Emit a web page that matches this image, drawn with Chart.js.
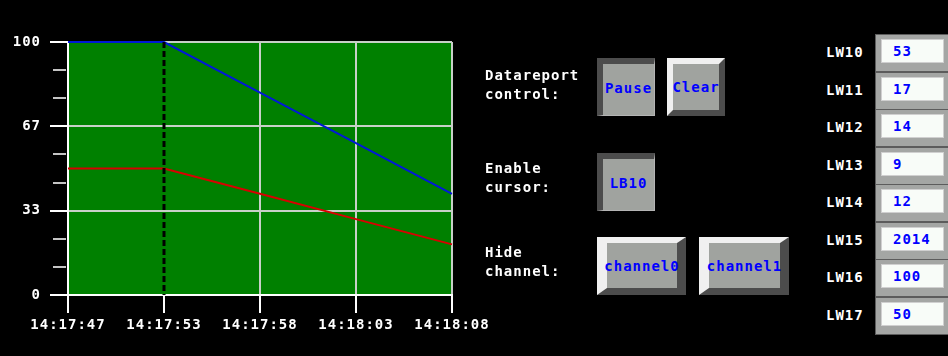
<!DOCTYPE html>
<html><head><meta charset="utf-8">
<script src="https://cdn.jsdelivr.net/npm/chart.js@4"></script>
<style>
html,body{margin:0;padding:0;background:#000;}
body{width:948px;height:356px;position:relative;overflow:hidden;font-family:"DejaVu Sans Mono",monospace;font-weight:bold;font-size:14px;letter-spacing:1px;}
#wrap{position:absolute;left:0;top:0;width:500px;height:356px;}
.lbl{position:absolute;color:#fff;line-height:19px;white-space:pre;}
.btn{position:absolute;box-sizing:border-box;background:#a0a39f;color:#0000ff;display:flex;align-items:center;justify-content:center;white-space:nowrap;border-style:solid;}
.down{border-color:#4c4c4c #b4b4b4 #b4b4b4 #4c4c4c;border-width:6px 1px 1px 6px;padding-bottom:4px;}
.up{border-color:#f0f0f0 #4c4c4c #4c4c4c #f0f0f0;}
.lw{position:absolute;left:826px;color:#fff;line-height:20px;}
.box{position:absolute;box-sizing:border-box;left:875px;width:80px;height:38px;background:#a4a6a4;border:1px solid #5c5c5c;}
.field{position:absolute;box-sizing:border-box;left:5px;top:4px;width:63px;height:24px;background:#f8fcf8;border:1px solid #d0d0d0;color:#0000ff;padding-left:11px;line-height:22px;}
</style></head>
<body>
<div id="wrap"><canvas id="c" width="500" height="356"></canvas></div>
<div id="ui"></div>
<script>
const timeLabels = ['14:17:47','14:17:53','14:17:58','14:18:03','14:18:08'];
const channel0 = [100,100,80,60,40];
const channel1 = [50,50,40,30,20];
const yTickLabels = ['0','33','67','100'];
const cursorIndex = 1;
const lwNames = ['LW10','LW11','LW12','LW13','LW14','LW15','LW16','LW17'];
const lwValues = ['53','17','14','9','12','2014','100','50'];
const controlLabels = ['Datareport\ncontrol:','Enable\ncursor:','Hide\nchannel:'];
const buttonTexts = ['Pause','Clear','LB10','channel0','channel1'];

// UI widgets
const ui = document.getElementById('ui');
function add(cls, txt, st){const d=document.createElement('div');d.className=cls;if(txt!==null)d.textContent=txt;Object.assign(d.style,st);ui.appendChild(d);return d;}
const labelPos=[[485,66],[485,159],[485,243]];
controlLabels.forEach((t,i)=>add('lbl',t,{left:labelPos[i][0]+'px',top:labelPos[i][1]+'px'}));
const btnGeo=[
 {l:597,t:58,w:58,h:58,cls:'down'},
 {l:667,t:58,w:58,h:58,cls:'up',bw:'6px 6px 6px 6px'},
 {l:597,t:153,w:58,h:58,cls:'down'},
 {l:597,t:237,w:89,h:58,cls:'up',bw:'6px 9px 7px 10px'},
 {l:699,t:237,w:90,h:58,cls:'up',bw:'6px 9px 7px 10px'}];
buttonTexts.forEach((t,i)=>{const g=btnGeo[i];const s={left:g.l+'px',top:g.t+'px',width:g.w+'px',height:g.h+'px'};if(g.bw)s.borderWidth=g.bw;add('btn '+g.cls,t,s);});
lwNames.forEach((n,i)=>{
  const top=34+i*37.5;
  add('lw',n,{top:(top+8)+'px'});
  const b=add('box',null,{top:top+'px'});
  const f=document.createElement('div');f.className='field';f.textContent=lwValues[i];b.appendChild(f);
});

// Chart
const FONT={family:'"DejaVu Sans Mono", monospace',size:14,weight:'bold'};
const spacing={id:'spacing',beforeUpdate(c){c.ctx.letterSpacing='1px';},beforeDraw(c){c.ctx.letterSpacing='1px';}};
const minorTicks={id:'minorTicks',afterDraw(c){
  const y=c.scales.y,ctx=c.ctx;ctx.save();ctx.strokeStyle='#c4c4c4';ctx.lineWidth=2;
  y.ticks.forEach((t,i)=>{if(i%3!==0){const p=Math.round(y.getPixelForValue(t.value));ctx.beginPath();ctx.moveTo(c.chartArea.left-15,p);ctx.lineTo(c.chartArea.left-2,p);ctx.stroke();}});
  ctx.restore();}};
const cursor={id:'cursor',afterDatasetsDraw(c){
  const x=c.scales.x.getPixelForValue(cursorIndex),a=c.chartArea,ctx=c.ctx;
  ctx.save();ctx.strokeStyle='#000';ctx.lineWidth=3;ctx.setLineDash([6,3]);
  ctx.beginPath();ctx.moveTo(x,a.top);ctx.lineTo(x,a.bottom);ctx.stroke();ctx.restore();}};
const bgPlugin={id:'bg',beforeDraw(c){const a=c.chartArea,ctx=c.ctx;ctx.save();ctx.fillStyle='#008000';ctx.fillRect(a.left,a.top,a.right-a.left,a.bottom-a.top);ctx.restore();}};

new Chart(document.getElementById('c'),{
  type:'line',
  data:{labels:timeLabels,datasets:[
    {label:'channel0',data:channel0,borderColor:'#0018d8',borderWidth:2,pointRadius:0,tension:0,clip:6},
    {label:'channel1',data:channel1,borderColor:'#d80000',borderWidth:2,pointRadius:0,tension:0,clip:6}]},
  options:{
    responsive:false,animation:false,
    layout:{padding:{top:42,right:48,left:0,bottom:0}},
    plugins:{legend:{display:false},tooltip:{enabled:false}},
    scales:{
      x:{type:'category',offset:false,
        afterFit(s){s.height=61;},
        border:{color:'#ffffff',width:2},
        grid:{color:ctx=>(ctx.index===0||ctx.index===cursorIndex)?'rgba(0,0,0,0)':'#c8d0c8',lineWidth:2,tickColor:'#ffffff',tickLength:18,tickWidth:2},
        ticks:{color:'#ffffff',font:FONT,padding:4,maxRotation:0,autoSkip:false}},
      y:{min:0,max:100,
        afterFit(s){s.width=68;},
        afterBuildTicks(s){s.ticks=Array.from({length:10},(_,i)=>({value:i*100/9}));},
        border:{color:'#ffffff',width:2},
        grid:{color:ctx=>(ctx.index%3===0&&ctx.index!==0)?'#c8d0c8':'rgba(0,0,0,0)',lineWidth:2,tickColor:ctx=>ctx.index%3===0?'#ffffff':'rgba(0,0,0,0)',tickLength:18,tickWidth:2},
        ticks:{color:'#ffffff',font:FONT,padding:9,autoSkip:false,callback:(v,i)=>i%3===0?yTickLabels[i/3]:''}}
    }
  },
  plugins:[spacing,bgPlugin,minorTicks,cursor]
});
</script>
</body></html>
